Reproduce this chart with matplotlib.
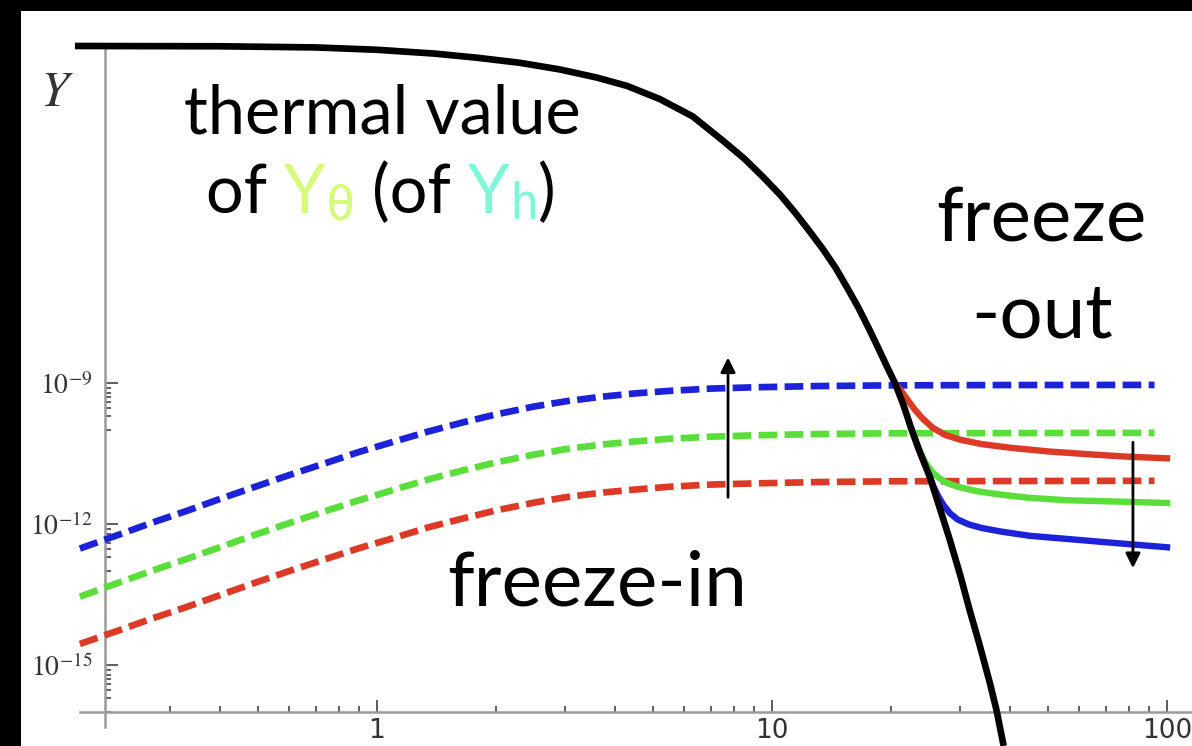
"""
Freeze-in vs freeze-out sketch: yield Y against m/T on log-log axes
"""

import matplotlib
matplotlib.use('Agg')
from matplotlib import pyplot as plt
from matplotlib.transforms import IdentityTransform
from matplotlib.ticker import FixedLocator, NullFormatter

plt.rcParams['mathtext.fontset'] = 'stix'

# thermal (equilibrium) yield, black curve
x_thermal = [0.172, 0.4, 0.7, 1.0, 1.4, 1.8, 2.3, 2.9, 3.6, 4.3, 5.2, 6.3,
             7.5, 8.5, 9.5, 10.5, 11.5, 12.5, 13.5, 14.5, 15.5, 16.5, 17.5,
             18.5, 19.5, 20.5, 21.5, 22.5, 23.5, 24.5, 25.1, 26.5, 28.2, 30.0,
             31.7, 33.5, 35.6, 37.0, 38.6]
y_thermal = [1.48e-2, 1.46e-2, 1.38e-2, 1.23e-2, 1.02e-2, 8.3e-3, 6.5e-3,
             4.7e-3, 3.16e-3, 2.09e-3, 1.10e-3, 4.7e-4, 1.45e-4, 6.0e-5,
             2.4e-5, 1.0e-5, 4.0e-6, 1.62e-6, 6.8e-7, 2.8e-7, 1.07e-7, 4.2e-8,
             1.58e-8, 6.0e-9, 2.34e-9, 9.8e-10, 3.5e-10, 1.10e-10, 4.0e-11,
             1.66e-11, 1.0e-11, 2.4e-12, 4.6e-13, 7.9e-14, 1.41e-14, 2.8e-15,
             4.2e-16, 1.12e-16, 1.9e-17]

# freeze-in yields (dashed)
x_freezein = [0.177, 0.22, 0.27, 0.33, 0.40, 0.50, 0.60, 0.75, 0.90, 1.1,
              1.35, 1.65, 2.0, 2.5, 3.0, 3.7, 4.5, 5.5, 7.0, 9.0, 13, 20, 40,
              93]
y_in_blue = [3.0e-13, 5.75e-13, 1.07e-12, 1.9e-12, 3.4e-12, 6.5e-12, 1.1e-11,
             2.04e-11, 3.4e-11, 5.6e-11, 9.3e-11, 1.45e-10, 2.14e-10,
             3.16e-10, 4.07e-10, 5.1e-10, 6.0e-10, 6.8e-10, 7.6e-10, 8.1e-10,
             8.6e-10, 8.9e-10, 9.05e-10, 9.1e-10]
y_in_green = [2.85e-14, 5.5e-14, 1.02e-13, 1.8e-13, 3.2e-13, 6.2e-13,
              1.05e-12, 1.95e-12, 3.2e-12, 5.3e-12, 8.9e-12, 1.38e-11,
              2.04e-11, 3.0e-11, 3.9e-11, 4.9e-11, 5.7e-11, 6.5e-11, 7.2e-11,
              7.7e-11, 8.2e-11, 8.5e-11, 8.6e-11, 8.7e-11]
y_in_red = [2.8e-15, 5.3e-15, 9.8e-15, 1.72e-14, 3.05e-14, 5.9e-14, 1.0e-13,
            1.85e-13, 3.05e-13, 5.0e-13, 8.5e-13, 1.31e-12, 1.94e-12,
            2.85e-12, 3.7e-12, 4.65e-12, 5.4e-12, 6.2e-12, 6.9e-12, 7.3e-12,
            7.8e-12, 8.1e-12, 8.2e-12, 8.3e-12]

# freeze-out yields (solid)
x_out_red = [20.5, 21.3, 22.0, 23.0, 24.0, 25.5, 27.5, 30, 34, 40, 50, 65,
             80, 100]
y_out_red = [9.8e-10, 6.6e-10, 4.5e-10, 2.7e-10, 1.8e-10, 1.12e-10, 7.8e-11,
             6.2e-11, 5.0e-11, 4.2e-11, 3.5e-11, 3.0e-11, 2.7e-11, 2.5e-11]
x_out_green = [22.5, 23.2, 23.8, 24.5, 25.3, 26.3, 27.5, 29.5, 33, 38, 45,
               56, 75, 100]
y_out_green = [1.1e-10, 5.5e-11, 3.2e-11, 2.0e-11, 1.35e-11, 1.0e-11,
               7.7e-12, 6.2e-12, 5.0e-12, 4.2e-12, 3.6e-12, 3.2e-12, 3.0e-12,
               2.8e-12]
x_out_blue = [25.1, 25.7, 26.4, 27.2, 28.2, 29.5, 31.5, 34, 38, 45, 56, 75,
              100]
y_out_blue = [1.0e-11, 6.0e-12, 3.8e-12, 2.5e-12, 1.7e-12, 1.25e-12, 9.8e-13,
              8.2e-13, 6.9e-13, 5.6e-13, 4.8e-13, 3.9e-13, 3.2e-13]

# arrows: (x, y_tail, y_head)
arrow_up = (7.74, 3.7e-12, 3.5e-9)
arrow_down = (82.0, 5.5e-11, 1.15e-13)

y_major = [1e-9, 1e-12, 1e-15]
y_major_labels = [r'$10^{-9}$', r'$10^{-12}$', r'$10^{-15}$']
x_major = [1, 10, 100]
x_major_labels = ['1', '10', '100']

BLUE = '#1c22d8'
GREEN = '#5ade3a'
RED = '#dc3a26'
Y_THETA = '#d6fa7a'
Y_H = '#7cf8d8'

W, H = 1192, 746


def rainbow_line(fig, xc, ybase, pieces):
    """Draw text pieces side by side, centred on xc (pixels)."""
    renderer = fig.canvas.get_renderer()
    texts = []
    for s, color, size, dy, family in pieces:
        t = fig.text(0, ybase + dy, s, color=color, fontsize=size,
                     family=family, va='baseline', ha='left',
                     transform=IdentityTransform())
        texts.append(t)
    widths = [t.get_window_extent(renderer).width for t in texts]
    x = xc - sum(widths) / 2
    for t, w in zip(texts, widths):
        t.set_x(x)
        x += w


fig = plt.figure(figsize=(W / 100, H / 100), dpi=100, facecolor='black')
ax = fig.add_axes([21 / W, 0, (W - 21) / W, (H - 11) / H], facecolor='white')
ax.set_xscale('log')
ax.set_yscale('log')
ax.set_xlim(0.1256, 115.7)
ax.set_ylim(1.89e-17, 0.0822)

lw = 4.8
dash = (2.8, 1.1)
ax.plot(x_freezein, y_in_blue, color=BLUE, lw=lw, dashes=dash, zorder=3)
ax.plot(x_freezein, y_in_green, color=GREEN, lw=lw, dashes=dash, zorder=3)
ax.plot(x_freezein, y_in_red, color=RED, lw=lw, dashes=dash, zorder=3)
ax.plot(x_out_red, y_out_red, color=RED, lw=4.6, zorder=4)
ax.plot(x_out_green, y_out_green, color=GREEN, lw=4.6, zorder=4)
ax.plot(x_out_blue, y_out_blue, color=BLUE, lw=4.6, zorder=4)
ax.plot(x_thermal, y_thermal, color='black', lw=4.8, zorder=5,
        solid_capstyle='butt', solid_joinstyle='round', clip_on=False)

for xa, y0, y1 in (arrow_up, arrow_down):
    ax.annotate('', xy=(xa, y1), xytext=(xa, y0),
                arrowprops=dict(arrowstyle='-|>', color='black', lw=2,
                                mutation_scale=22, shrinkA=0, shrinkB=0),
                zorder=6)

# Mathematica-like axes crossing inside the frame
for side in ('top', 'right'):
    ax.spines[side].set_visible(False)
ax.spines['left'].set_position(('data', 0.205))
ax.spines['bottom'].set_position(('data', 1e-16))
ax.spines['left'].set_bounds(4.8e-17, 0.0141)
ax.spines['bottom'].set_bounds(0.177, 115.7)
for side in ('left', 'bottom'):
    ax.spines[side].set_color('#9a9a9a')
    ax.spines[side].set_linewidth(1.8)

ax.xaxis.set_major_locator(FixedLocator(x_major))
ax.set_xticklabels(x_major_labels)
x_minor = [m * 0.1 for m in range(3, 10)] + list(range(2, 10)) + \
          list(range(20, 100, 10))
ax.xaxis.set_minor_locator(FixedLocator(x_minor))
ax.yaxis.set_major_locator(FixedLocator(y_major))
ax.set_yticklabels(y_major_labels)
y_minor = [m * v / 10 for v in y_major for m in (1, 2, 3, 4, 5, 6, 8)]
ax.yaxis.set_minor_locator(FixedLocator(y_minor))
ax.xaxis.set_minor_formatter(NullFormatter())
ax.yaxis.set_minor_formatter(NullFormatter())
ax.tick_params(which='both', direction='in', color='#333333', width=1.1)
ax.tick_params(which='major', length=9)
ax.tick_params(which='minor', length=4.5)
ax.tick_params(axis='x', which='major', pad=4, labelsize=19,
               labelcolor='#333333')
ax.tick_params(axis='y', which='major', pad=9, labelsize=20,
               labelcolor='#333333')

fig.text(57, H - 92, r'$Y$', fontsize=36, color='#333333', ha='center',
         va='center', transform=IdentityTransform())

# annotations
sans = ['Lato', 'DejaVu Sans']
mono = ['DejaVu Sans Mono']
big = dict(family=sans, color='black', transform=IdentityTransform(),
           va='baseline', ha='center')
fig.text(382, H - 133, 'thermal value', fontsize=48, **big)
rainbow_line(fig, 381, H - 213, [
    ('of ', 'black', 48, 0, sans),
    ('Y', Y_THETA, 48, 0, sans),
    ('θ', Y_THETA, 35, -6, mono),
    (' (of ', 'black', 48, 0, sans),
    ('Y', Y_H, 48, 0, sans),
    ('h', Y_H, 35, -6, mono),
    (')', 'black', 48, 0, sans),
])
fig.text(1041, H - 242, 'freeze', fontsize=55, **big)
fig.text(1042, H - 337, '-out', fontsize=55, **big)
fig.text(597, H - 605, 'freeze-in', fontsize=55, **big)

fig.savefig('out.png', dpi=100, facecolor='black')
